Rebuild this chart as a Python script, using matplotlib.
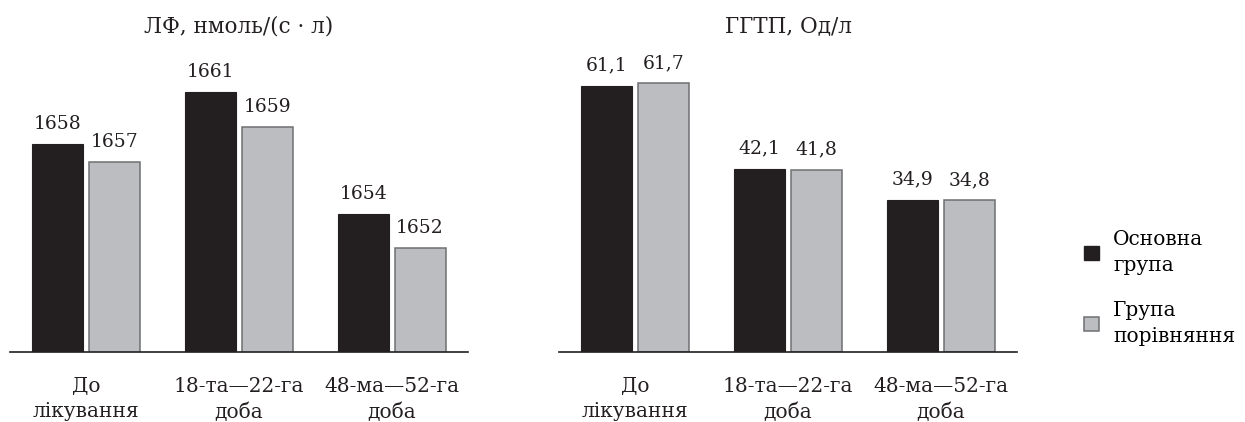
import matplotlib
matplotlib.use("Agg")
import matplotlib.pyplot as plt
from matplotlib.patches import Patch
import numpy as np

plt.rcParams["font.family"] = ["DejaVu Serif"]

# data
categories = ["До\nлікування", "18-та—22-га\nдоба", "48-ма—52-га\nдоба"]
lf_main = [1658, 1661, 1654]
lf_comp = [1657, 1659, 1652]
ggtp_main = [61.1, 42.1, 34.9]
ggtp_comp = [61.7, 41.8, 34.8]
titles = ["ЛФ, нмоль/(с · л)", "ГГТП, Од/л"]
series_names = ["Основна\nгрупа", "Група\nпорівняння"]

BLACK = "#231f20"
GREY = "#bcbdc0"
GREY_EDGE = "#6f7073"

W, H = 1245, 422
fig = plt.figure(figsize=(W/100, H/100), dpi=100)

# axes boxes in pixel space (left, right) with common baseline/top
base_px, top_px = 352.3, 60
boxes = [(10, 468), (559, 1017)]
ylims = [(1646, 1646 + (base_px-top_px)/17.33), (0, (base_px-top_px)/4.365)]

def fmt_lf(v): return f"{v:d}"
def fmt_gg(v): return f"{v:.1f}".replace(".", ",")

panels = [(lf_main, lf_comp, fmt_lf, 8), (ggtp_main, ggtp_comp, fmt_gg, 8)]

x = np.arange(len(categories))
bw = 0.334
off = 0.186

for i, ((x0, x1), (main, comp, fmt, lab_off)) in enumerate(zip(boxes, panels)):
    ax = fig.add_axes([x0/W, (H-base_px)/H, (x1-x0)/W, (base_px-top_px)/H])
    ax.bar(x-off, main, bw, color=BLACK, edgecolor=BLACK, linewidth=0.8)
    ax.bar(x+off, comp, bw, color=GREY, edgecolor=GREY_EDGE, linewidth=1.1)
    ax.set_xlim(-0.5, 2.5)
    ax.set_ylim(*ylims[i])
    for xi, v in zip(x-off, main):
        ax.annotate(fmt(v), (xi, v), xytext=(0, lab_off), textcoords="offset points",
                    ha="center", va="bottom", fontsize=13.5, color=BLACK)
    for xi, v in zip(x+off, comp):
        ax.annotate(fmt(v), (xi, v), xytext=(0, lab_off), textcoords="offset points",
                    ha="center", va="bottom", fontsize=13.5, color=BLACK)
    for s in ["top", "left", "right"]:
        ax.spines[s].set_visible(False)
    ax.spines["bottom"].set_linewidth(1.2)
    ax.spines["bottom"].set_color(BLACK)
    ax.set_yticks([])
    ax.set_xticks(x)
    ax.set_xticklabels(categories, fontsize=14.5, linespacing=1.4, color=BLACK)
    ax.tick_params(axis="x", length=0, pad=18)
    fig.text((x0+x1)/2/W, 1-26/H, titles[i], ha="center", va="center", fontsize=15.5, color=BLACK)

handles = [Patch(facecolor=BLACK, edgecolor=BLACK),
           Patch(facecolor=GREY, edgecolor=GREY_EDGE, linewidth=1.1)]
leg = fig.legend(handles, series_names, loc="center left", bbox_to_anchor=(1084/W, 1-288/H),
                 frameon=False, fontsize=14.5, handlelength=0.75, handleheight=0.75,
                 handletextpad=0.7, labelspacing=1.3, borderpad=0, borderaxespad=0)
for t in leg.get_texts():
    t.set_linespacing(1.45)

fig.savefig("out.png", dpi=100)
